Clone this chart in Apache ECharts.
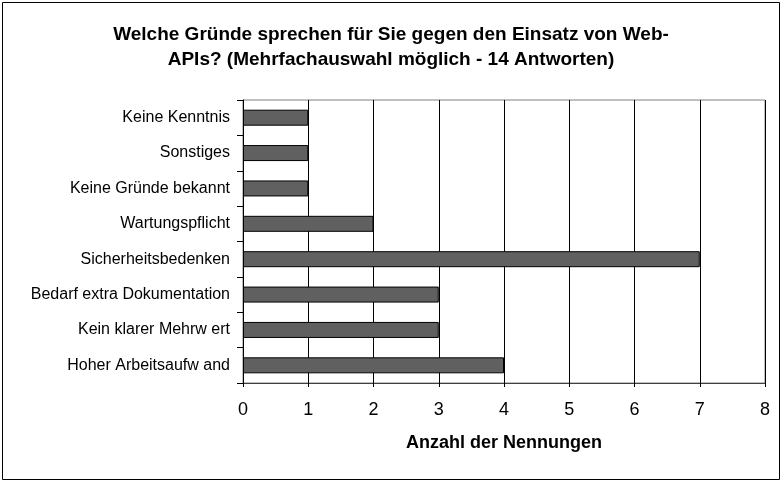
<!DOCTYPE html>
<html>
<head>
<meta charset="utf-8">
<script src="https://cdn.jsdelivr.net/npm/echarts@6/dist/echarts.min.js"></script>
<style>
  html, body { margin: 0; padding: 0; background: #fff; }
  #chart { width: 782px; height: 482px; }
</style>
</head>
<body>
<div id="chart"></div>
<script>
// Daten aus der Grafik (von oben nach unten)
var categories = [
  'Keine Kenntnis',
  'Sonstiges',
  'Keine Gründe bekannt',
  'Wartungspflicht',
  'Sicherheitsbedenken',
  'Bedarf extra Dokumentation',
  'Kein klarer Mehrw ert',
  'Hoher Arbeitsaufw and'
];
var counts = [1, 1, 1, 2, 7, 3, 3, 4];
var xTicks = [0, 1, 2, 3, 4, 5, 6, 7, 8];

var chart = echarts.init(document.getElementById('chart'));

var font = 'Liberation Sans, Arial, sans-serif';

var option = {
  animation: false,
  backgroundColor: '#fff',
  textStyle: { fontFamily: font },
  title: {
    text: 'Welche Gründe sprechen für Sie gegen den Einsatz von Web-\nAPIs? (Mehrfachauswahl möglich - 14 Antworten)',
    left: 'center',
    top: 17,
    textStyle: {
      fontFamily: font,
      fontSize: 19,
      fontWeight: 'bold',
      color: '#000',
      lineHeight: 25
    }
  },
  graphic: [{
    type: 'rect',
    shape: { x: 2.5, y: 2.5, width: 777, height: 477 },
    style: { fill: 'none', stroke: '#000', lineWidth: 1 },
    silent: true
  }],
  grid: {
    left: 243,
    right: 17,
    top: 100,
    bottom: 99,
    show: true,
    borderColor: '#808080',
    borderWidth: 1
  },
  xAxis: {
    type: 'value',
    min: xTicks[0],
    max: xTicks[xTicks.length - 1],
    interval: 1,
    name: 'Anzahl der Nennungen',
    nameLocation: 'middle',
    nameGap: 51,
    nameTextStyle: { fontFamily: font, fontSize: 18, fontWeight: 'bold', color: '#000' },
    axisLine: { show: true, lineStyle: { color: '#404040', width: 1 } },
    axisTick: { show: true, length: 4, lineStyle: { color: '#000' } },
    axisLabel: { fontFamily: font, fontSize: 18, color: '#000', margin: 18 },
    splitLine: { show: true, lineStyle: { color: '#000', width: 1 } }
  },
  yAxis: {
    type: 'category',
    data: categories,
    inverse: true,
    axisLine: { show: true, lineStyle: { color: '#000', width: 1 } },
    axisTick: { show: true, length: 6, lineStyle: { color: '#000' } },
    axisLabel: { fontFamily: font, fontSize: 16, color: '#000', margin: 13 },
    splitLine: { show: false }
  },
  series: [{
    type: 'bar',
    data: counts,
    barWidth: 16,
    itemStyle: {
      color: '#606060',
      borderColor: '#000',
      borderWidth: 1
    }
  }]
};

chart.setOption(option);
</script>
</body>
</html>
